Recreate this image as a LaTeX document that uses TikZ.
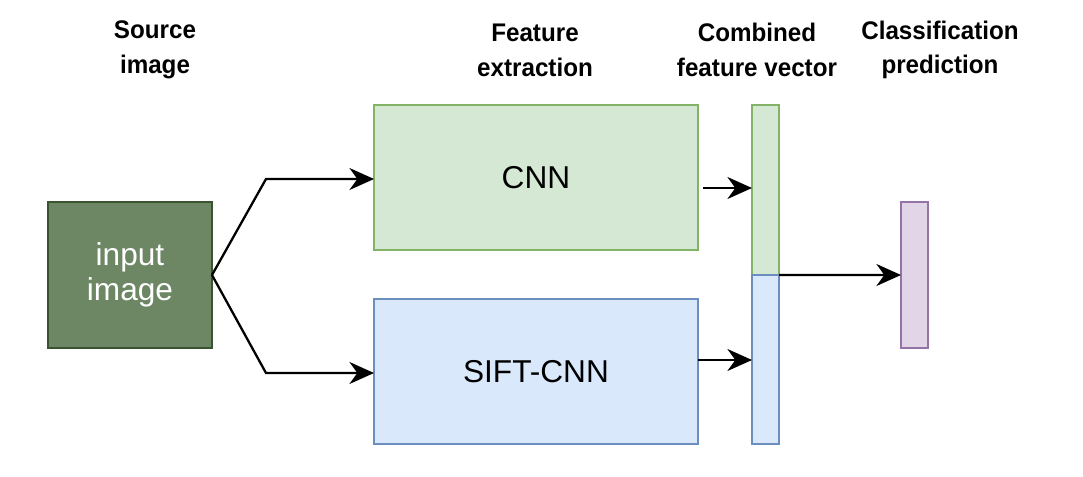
\documentclass[tikz,border=0pt]{standalone}
\usepackage{fontspec}
\setmainfont{Liberation Sans}
\newfontfamily\headfont[FakeStretch=0.95]{Liberation Sans}
\usetikzlibrary{arrows.meta}
\definecolor{imgfill}{HTML}{6D8764}
\definecolor{imgline}{HTML}{3A5431}
\definecolor{gfill}{HTML}{D5E8D4}
\definecolor{gline}{HTML}{82B366}
\definecolor{bfill}{HTML}{DAE8FC}
\definecolor{bline}{HTML}{6C8EBF}
\definecolor{pfill}{HTML}{E1D5E7}
\definecolor{pline}{HTML}{9673A6}
\begin{document}
\begin{tikzpicture}
  [x=0.02cm,y=-0.02cm,every node/.style={inner sep=0pt,outer sep=0pt}]
  \tikzstyle{box} = [draw,rectangle,line width=1.3pt,font=\fontsize{18}{20}\selectfont]
  \tikzstyle{bar} = [draw,rectangle,line width=1.3pt,minimum width=0.54cm]
  \tikzstyle{head} = [font=\headfont\fontsize{14.5}{19.8}\selectfont\bfseries,align=center]
  \tikzstyle{link} = [line width=1.3pt,-{Stealth[length=14pt,width=12.5pt,inset=4.5pt]}]
  \useasboundingbox (0,0) rectangle (1083,477);
  % headers
  \node[head] (h1) at (155,50) {Source\\image};
  \node[head] (h2) at (535,50) {Feature\\extraction};
  \node[head] (h3) at (757,50) {Combined\\feature vector};
  \node[head] (h4) at (940,50) {Classification\\prediction};
  % boxes
  \node[box,fill=imgfill,draw=imgline,text=white,minimum width=3.28cm,minimum height=2.92cm] (img) at (130,275)
    {\raisebox{-0.52cm}[0pt][0pt]{\begin{tabular}[b]{@{}c@{}}input\\image\end{tabular}}};
  \node[box,fill=gfill,draw=gline,minimum width=6.48cm,minimum height=2.9cm] (cnn) at (536,177.5) {CNN};
  \node[box,fill=bfill,draw=bline,minimum width=6.48cm,minimum height=2.9cm] (sift) at (536,371.5) {SIFT-CNN};
  \node[bar,fill=gfill,draw=gline,minimum height=3.4cm] (vtop) at (765.5,190) {};
  \node[bar,fill=bfill,draw=bline,minimum height=3.38cm] (vbot) at (765.5,359.5) {};
  \node[bar,fill=pfill,draw=pline,minimum height=2.92cm] (pred) at (914.5,275) {};
  \coordinate (up) at (266,179);
  \coordinate (down) at (266,373);
  % connectors
  \draw[link] (img.east) -- (up) -- (cnn.west |- up);
  \draw[link] (img.east) -- (down) -- (sift.west |- down);
  \draw[link] ([xshift=0.1cm]cnn.east |- 0,188) -- (vtop.west |- 0,188);
  \draw[link] (sift.east |- 0,360) -- (vbot.west |- 0,360);
  \draw[link] (vtop.south east) -- (pred.west);
\end{tikzpicture}
\end{document}
